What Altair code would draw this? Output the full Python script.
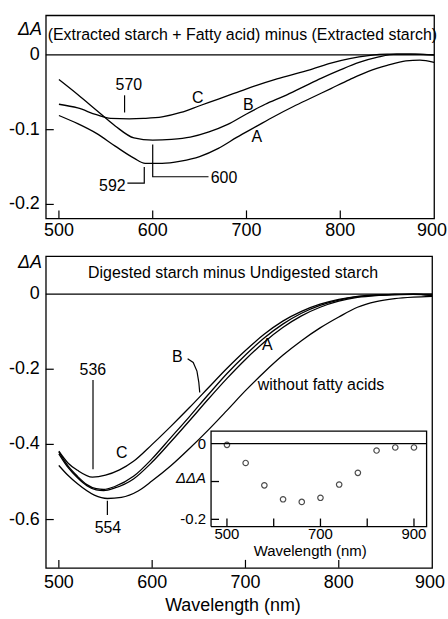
import altair as alt
import pandas as pd

# ---------------- data ----------------
# Upper panel: (Extracted starch + Fatty acid) minus (Extracted starch)
TOP_A_WL = [500, 520, 540, 560, 580, 592, 610, 630, 650, 670, 690, 710, 730, 750, 770, 790, 810, 830, 850, 870, 885, 900]
TOP_A_DA = [-0.081, -0.092, -0.105, -0.122, -0.138, -0.145, -0.145, -0.142, -0.136, -0.125, -0.110, -0.096, -0.082, -0.069, -0.057, -0.045, -0.033, -0.022, -0.014, -0.008, -0.007, -0.010]
TOP_B_WL = [500, 520, 540, 560, 580, 600, 620, 640, 660, 680, 700, 720, 740, 760, 780, 800, 820, 840, 860, 880, 900]
TOP_B_DA = [-0.033, -0.053, -0.074, -0.095, -0.111, -0.114, -0.113, -0.110, -0.103, -0.093, -0.079, -0.066, -0.055, -0.043, -0.031, -0.020, -0.010, -0.003, 0.001, 0.001, 0.000]
TOP_C_WL = [500, 520, 540, 555, 575, 590, 610, 630, 650, 670, 690, 710, 730, 750, 770, 790, 810, 830, 850, 875, 900]
TOP_C_DA = [-0.066, -0.071, -0.080, -0.085, -0.0855, -0.085, -0.083, -0.077, -0.068, -0.059, -0.050, -0.041, -0.033, -0.026, -0.019, -0.011, -0.005, -0.001, 0.001, 0.001, 0.000]

# Lower panel: Digested starch minus Undigested starch
BOT_WL = [500, 510, 520, 530, 540, 548, 560, 580, 600, 620, 640, 660, 680, 700, 720, 740, 760, 780, 800, 820, 840, 860, 880, 900]
BOT_A_DA = [-0.425, -0.462, -0.489, -0.510, -0.521, -0.523, -0.516, -0.492, -0.447, -0.393, -0.337, -0.280, -0.225, -0.174, -0.128, -0.089, -0.058, -0.035, -0.019, -0.009, -0.004, -0.002, -0.001, -0.004]
BOT_B_DA = [-0.420, -0.458, -0.485, -0.507, -0.518, -0.520, -0.512, -0.485, -0.438, -0.382, -0.326, -0.268, -0.212, -0.162, -0.117, -0.080, -0.051, -0.030, -0.016, -0.007, -0.003, -0.001, 0.000, -0.003]
BOT_C_WL = [500, 510, 520, 536, 550, 565, 580, 600, 620, 640, 660, 680, 700, 720, 740, 760, 780, 800, 820, 840, 860, 880, 900]
BOT_C_DA = [-0.418, -0.450, -0.469, -0.487, -0.482, -0.468, -0.445, -0.400, -0.352, -0.302, -0.250, -0.198, -0.150, -0.107, -0.072, -0.046, -0.027, -0.014, -0.006, -0.002, -0.001, 0.000, 0.000]
BOT_N_WL = [500, 510, 520, 538, 552, 567, 585, 600, 620, 640, 660, 680, 700, 720, 740, 760, 780, 800, 820, 840, 860, 880, 900]
BOT_N_DA = [-0.456, -0.483, -0.505, -0.535, -0.544, -0.541, -0.524, -0.497, -0.457, -0.411, -0.362, -0.310, -0.257, -0.208, -0.163, -0.124, -0.090, -0.061, -0.035, -0.020, -0.012, -0.008, -0.006]

# Inset: difference spectrum
INSET_WL = [500, 540, 580, 620, 660, 700, 740, 780, 820, 860, 900]
INSET_DDA = [-0.003, -0.051, -0.110, -0.147, -0.154, -0.143, -0.108, -0.077, -0.018, -0.010, -0.010]

# Ticks / tick labels
X_TICKS = [500, 600, 700, 800]
X_LAST = [900]
TOP_Y_TICKS = [0, -0.1, -0.2]
TOP_Y_LABELS = ["0", "-0.1", "-0.2"]
TOP_Y_INNER = [-0.1, -0.2]
BOT_Y_TICKS = [0, -0.2, -0.4, -0.6]
BOT_Y_LABELS = ["0", "-0.2", "-0.4", "-0.6"]
BOT_Y_INNER = [-0.2, -0.4, -0.6]
INSET_X_TICKS = [500, 600, 700, 800, 900]
INSET_X_LABELS = ["500", "", "700", "", "900"]
INSET_Y_TICKS = [0, -0.1, -0.2]
INSET_Y_LABELS = ["0", "", "-0.2"]

# Annotations (data coordinates)
TOP_TEXT = ["(Extracted starch + Fatty acid) minus (Extracted starch)", "C", "B", "A", "570", "592", "600"]
TOP_TEXT_WL = [695.6, 648, 702, 711, 574.6, 557, 676]
TOP_TEXT_DA = [0.0267, -0.058, -0.067, -0.110, -0.040, -0.175, -0.165]
TOP_LEAD_ID = ["570", "570", "592", "592", "592", "600", "600", "600"]
TOP_LEAD_WL = [570, 570, 573, 591, 591, 600, 600, 659.5]
TOP_LEAD_DA = [-0.054, -0.077, -0.1716, -0.1716, -0.150, -0.120, -0.163, -0.163]

BOT_TEXT = ["Digested starch minus Undigested starch", "C", "B", "A", "536", "554", "without fatty acids"]
BOT_TEXT_WL = [686.7, 567.5, 627, 723.5, 536.4, 552.6, 781]
BOT_TEXT_DA = [0.0564, -0.423, -0.167, -0.135, -0.201, -0.623, -0.241]
BOT_LEAD_ID = ["536", "536", "554", "554", "B", "B", "B", "B", "B"]
BOT_LEAD_WL = [536.6, 536.6, 552, 552, 638, 644, 648, 650, 651]
BOT_LEAD_DA = [-0.2286, -0.466, -0.550, -0.588, -0.172, -0.182, -0.205, -0.235, -0.262]

# ---------------- layout / style ----------------
FONT = "Liberation Sans"
XDOM = [486, 900]
TOP_W, TOP_H = 390, 204
TOP_YDOM = [-0.2187, 0.053]
BOT_W, BOT_H = 388, 313
BOT_YDOM = [-0.7285, 0.1007]
TICK = 8
LW = 1.3

INSET_XDOM = [466, 927]
INSET_YDOM = [-0.219, 0.0332]
INSET_L, INSET_R, INSET_T, INSET_B = 166, 382.5, 175.7, 271.5


def long_df(pairs):
    rows = []
    for name, wl, da in pairs:
        for w, d in zip(wl, da):
            rows.append({"series": name, "wl": w, "da": d})
    return pd.DataFrame(rows)


def box_layer(xdom, ydom, xr, yr, xticks, yinner):
    """Frame outline and inward ticks drawn as polylines on scales with explicit pixel ranges."""
    w = abs(xr[1] - xr[0])
    h = abs(yr[0] - yr[1])
    dx = TICK * (xdom[1] - xdom[0]) / w
    dy = TICK * (ydom[1] - ydom[0]) / h
    x0, x1 = xdom
    y0, y1 = ydom
    rows = []
    for px, py in [(x0, y0), (x1, y0), (x1, y1), (x0, y1), (x0, y0)]:
        rows.append(("frame", px, py))
    for t in xticks:
        rows += [("xt%s" % t, t, y0), ("xt%s" % t, t, y0 + dy)]
    for t in yinner:
        rows += [("yt%s" % t, x0, t), ("yt%s" % t, x0 + dx, t)]
    df = pd.DataFrame(rows, columns=["id", "bx", "by"])
    df["o"] = range(len(df))
    xs = alt.Scale(domain=xdom, range=xr, nice=False, zero=False)
    ys = alt.Scale(domain=ydom, range=yr, nice=False, zero=False)
    return alt.Chart(df).mark_line(color="black", strokeWidth=LW, clip=False).encode(
        x=alt.X("bx:Q", scale=xs, axis=None), y=alt.Y("by:Q", scale=ys, axis=None),
        detail="id:N", order="o:Q")


def panel(curves, texts, leads, ydom, yticks, ylabels, yinner, w, h, title_y, xlab_y, xtitle):
    xs = alt.Scale(domain=XDOM, nice=False, zero=False)
    ys = alt.Scale(domain=ydom, nice=False, zero=False)

    def X(f):
        return alt.X(f, scale=xs, axis=None)

    def Y(f):
        return alt.Y(f, scale=ys, axis=None)

    leads = leads.copy()
    leads["o"] = range(len(leads))
    lines = alt.Chart(curves).mark_line(color="black", strokeWidth=LW, interpolate="monotone").encode(
        x=X("wl:Q"), y=Y("da:Q"), detail="series:N")
    zero = alt.Chart(pd.DataFrame({"wl": [XDOM[0]], "wl2": [XDOM[1]], "da": [0]})).mark_rule(
        color="black", strokeWidth=LW).encode(x=X("wl:Q"), x2="wl2:Q", y=Y("da:Q"))
    xt = alt.Chart(pd.DataFrame({"t": X_TICKS})).mark_rule(color="black", strokeWidth=1.2).encode(
        x=X("t:Q"), y=alt.value(h), y2=alt.value(h - TICK))
    yt = alt.Chart(pd.DataFrame({"t": yinner})).mark_rule(color="black", strokeWidth=1.2).encode(
        y=Y("t:Q"), x=alt.value(0), x2=alt.value(TICK))
    lead = alt.Chart(leads).mark_line(color="black", strokeWidth=1.2).encode(
        x=X("wl:Q"), y=Y("da:Q"), detail="id:N", order="o:Q")
    txt = alt.Chart(texts).mark_text(font=FONT, fontSize=16, color="black", align="center",
                                     baseline="middle").encode(
        x=X("wl:Q"), y=Y("da:Q"), text="label:N")
    # tick labels positioned through the scales
    xl = alt.Chart(pd.DataFrame({"t": X_TICKS, "lab": [str(v) for v in X_TICKS]})).mark_text(
        font=FONT, fontSize=18, color="black", align="center", baseline="top").encode(
        x=X("t:Q"), y=alt.value(h + xlab_y), text="lab:N")
    xl_last = alt.Chart(pd.DataFrame({"t": X_LAST, "lab": [str(v) for v in X_LAST]})).mark_text(
        font=FONT, fontSize=18, color="black", align="right", baseline="top", dx=13).encode(
        x=X("t:Q"), y=alt.value(h + xlab_y), text="lab:N")
    yl = alt.Chart(pd.DataFrame({"t": yticks, "lab": ylabels})).mark_text(
        font=FONT, fontSize=18, color="black", align="right", baseline="middle").encode(
        y=Y("t:Q"), x=alt.value(-6), text="lab:N")
    ytitle = alt.Chart(pd.DataFrame({"lab": ["ΔA"]})).mark_text(
        font=FONT, fontSize=18, fontStyle="italic", color="black", align="center",
        baseline="middle").encode(x=alt.value(-16), y=alt.value(title_y), text="lab:N")
    layers = [lines, zero, xt, yt, lead, txt, xl, xl_last, yl, ytitle]
    if xtitle:
        layers.append(alt.Chart(pd.DataFrame({"lab": [xtitle]})).mark_text(
            font=FONT, fontSize=18, color="black", align="center", baseline="middle").encode(
            x=alt.value(w / 2 - 6), y=alt.value(h + 38), text="lab:N"))
    return alt.layer(*layers)


top_curves = long_df([("A", TOP_A_WL, TOP_A_DA), ("B", TOP_B_WL, TOP_B_DA), ("C", TOP_C_WL, TOP_C_DA)])
bot_curves = long_df([("A", BOT_WL, BOT_A_DA), ("B", BOT_WL, BOT_B_DA), ("C", BOT_C_WL, BOT_C_DA),
                      ("without", BOT_N_WL, BOT_N_DA)])
top_text = pd.DataFrame({"label": TOP_TEXT, "wl": TOP_TEXT_WL, "da": TOP_TEXT_DA})
bot_text = pd.DataFrame({"label": BOT_TEXT, "wl": BOT_TEXT_WL, "da": BOT_TEXT_DA})
top_lead = pd.DataFrame({"id": TOP_LEAD_ID, "wl": TOP_LEAD_WL, "da": TOP_LEAD_DA})
bot_lead = pd.DataFrame({"id": BOT_LEAD_ID, "wl": BOT_LEAD_WL, "da": BOT_LEAD_DA})

top_main = panel(top_curves, top_text, top_lead, TOP_YDOM, TOP_Y_TICKS, TOP_Y_LABELS, TOP_Y_INNER,
                 TOP_W, TOP_H, 15, 4, None)
bot_main = panel(bot_curves, bot_text, bot_lead, BOT_YDOM, BOT_Y_TICKS, BOT_Y_LABELS, BOT_Y_INNER,
                 BOT_W, BOT_H, 7, 6, "Wavelength (nm)")

# ---------------- inset ----------------
ixs = alt.Scale(domain=INSET_XDOM, range=[INSET_L, INSET_R], nice=False, zero=False)
iys = alt.Scale(domain=INSET_YDOM, range=[INSET_B, INSET_T], nice=False, zero=False)


def IX(f):
    return alt.X(f, scale=ixs, axis=None)


def IY(f):
    return alt.Y(f, scale=iys, axis=None)


i_bg = alt.Chart(pd.DataFrame({"wl": [INSET_XDOM[0]], "wl2": [INSET_XDOM[1]],
                               "da": [INSET_YDOM[0]], "da2": [INSET_YDOM[1]]})).mark_rect(
    fill="white").encode(x=IX("wl:Q"), x2="wl2:Q", y=IY("da:Q"), y2="da2:Q")
i_zero = alt.Chart(pd.DataFrame({"wl": [INSET_XDOM[0]], "wl2": [INSET_XDOM[1]], "da": [0]})).mark_rule(
    color="black", strokeWidth=LW).encode(x=IX("wl:Q"), x2="wl2:Q", y=IY("da:Q"))
i_pts = alt.Chart(pd.DataFrame({"wl": INSET_WL, "dda": INSET_DDA})).mark_point(
    shape="circle", filled=False, size=30, color="black", strokeWidth=1.2).encode(
    x=IX("wl:Q"), y=IY("dda:Q"))
i_xl = alt.Chart(pd.DataFrame({"t": INSET_X_TICKS, "lab": INSET_X_LABELS})).mark_text(
    font=FONT, fontSize=15, color="black", baseline="middle").encode(
    x=IX("t:Q"), y=alt.value(INSET_B + 8), text="lab:N")
i_yl = alt.Chart(pd.DataFrame({"t": INSET_Y_TICKS, "lab": INSET_Y_LABELS})).mark_text(
    font=FONT, fontSize=15, color="black", align="right", baseline="middle").encode(
    y=IY("t:Q"), x=alt.value(INSET_L - 5), text="lab:N")
i_ytitle = alt.Chart(pd.DataFrame({"t": [-0.092], "lab": ["ΔΔA"]})).mark_text(
    font=FONT, fontSize=15, fontStyle="italic", color="black", align="right", baseline="middle").encode(
    y=IY("t:Q"), x=alt.value(INSET_L - 5), text="lab:N")
i_xtitle = alt.Chart(pd.DataFrame({"t": [678], "lab": ["Wavelength (nm)"]})).mark_text(
    font=FONT, fontSize=15, color="black", baseline="middle").encode(
    x=IX("t:Q"), y=alt.value(INSET_B + 24.5), text="lab:N")
inset = alt.layer(i_bg, i_zero, i_pts, i_xl, i_yl, i_ytitle, i_xtitle)
i_box = box_layer(INSET_XDOM, INSET_YDOM, [INSET_L, INSET_R], [INSET_B, INSET_T],
                  INSET_X_TICKS, INSET_Y_TICKS[1:])

top = top_main.properties(width=TOP_W, height=TOP_H)
bottom = alt.layer(bot_main, inset, i_box).resolve_scale(
    x="independent", y="independent").properties(width=BOT_W, height=BOT_H)

chart = alt.vconcat(top, bottom, spacing=12).properties(
    padding={"left": 8, "top": 13, "right": 0, "bottom": 0}
).configure_view(stroke="black", strokeWidth=1.3)

chart.save("out.html", embed_options={"renderer": "svg", "actions": False})
